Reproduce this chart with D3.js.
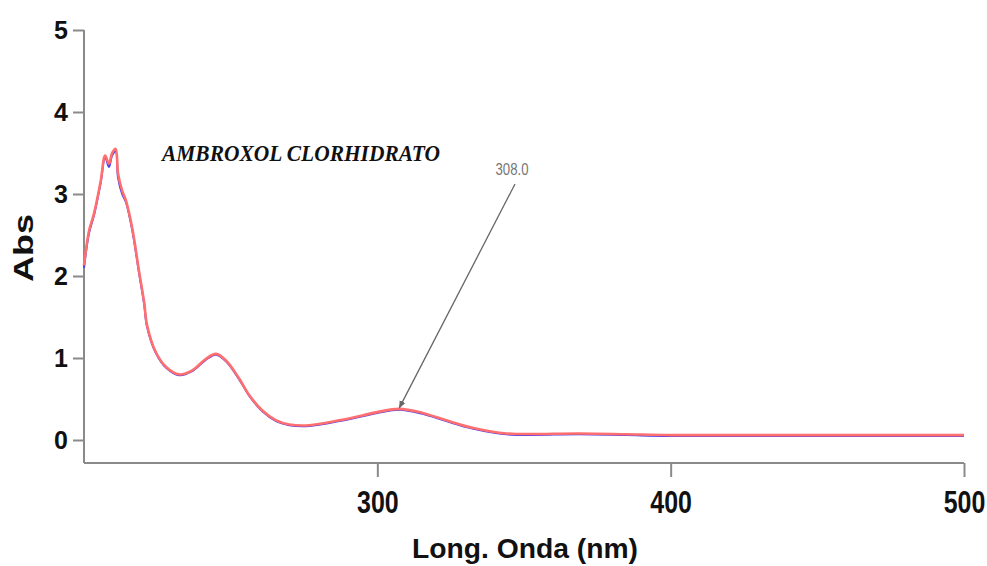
<!DOCTYPE html>
<html>
<head>
<meta charset="utf-8">
<script src="https://cdn.jsdelivr.net/npm/d3@7"></script>
<style>
  body { margin: 0; background: #fff; }
  .tick text { font-family: "Liberation Sans", Arial, sans-serif; font-weight: bold; fill: #111; }
  .y.axis .tick text { font-size: 25px; }
  .x.axis .tick text { font-size: 32px; }
  .axis path, .axis line { stroke: #8a8a8a; stroke-width: 2; }
</style>
</head>
<body>
<script>
// spectrum (wavelength nm, absorbance)
var wavelengths = [200, 201.7, 203.4, 205.7, 207.2, 208.5, 209.6, 210.8, 211.6, 213, 214.3, 216.4, 218.8, 220.5, 221.5, 224.5, 228, 232.4, 236.9, 241.6, 245, 248.4, 252.9, 256.3, 260.8, 265.5, 270, 276.8, 287, 294.9, 300, 307.5, 315.4, 323.5, 332.4, 344, 369, 385, 400, 450, 500];
var absRed  = [2.13, 2.55, 2.76, 3.16, 3.47, 3.37, 3.50, 3.55, 3.25, 3.04, 2.92, 2.59, 2.05, 1.68, 1.40, 1.07, 0.89, 0.80, 0.85, 0.99, 1.05, 0.97, 0.75, 0.55, 0.36, 0.24, 0.19, 0.18, 0.24, 0.30, 0.34, 0.38, 0.33, 0.24, 0.15, 0.08, 0.08, 0.07, 0.06, 0.06, 0.06];
var absBlue = [2.10, 2.52, 2.74, 3.14, 3.45, 3.33, 3.47, 3.52, 3.20, 3.00, 2.90, 2.57, 2.03, 1.66, 1.38, 1.06, 0.88, 0.79, 0.84, 0.98, 1.04, 0.96, 0.74, 0.54, 0.35, 0.23, 0.18, 0.17, 0.23, 0.29, 0.33, 0.37, 0.32, 0.23, 0.14, 0.07, 0.07, 0.06, 0.05, 0.05, 0.05];
var xTicks = [300, 400, 500];
var yTicks = [0, 1, 2, 3, 4, 5];
var title = "AMBROXOL CLORHIDRATO";
var peakLabel = "308.0";
var peakX = 307.5, peakY = 0.38;

var width = 987, height = 566;
var margin = {left: 84, right: 23, top: 30, bottom: 104};

var svg = d3.select("body").append("svg")
    .attr("width", width)
    .attr("height", height);

var x = d3.scaleLinear().domain([200, 500]).range([margin.left, width - margin.right]);
var y = d3.scaleLinear().domain([0, 5]).range([440, 30]);
var yBottom = 463;

// y axis
var yAxis = svg.append("g").attr("class", "y axis")
    .attr("transform", "translate(" + margin.left + ",0)")
    .call(d3.axisLeft(y).tickValues(yTicks).tickFormat(d3.format("d"))
      .tickSize(11).tickSizeOuter(0).tickPadding(5));
yAxis.select(".domain").remove();
yAxis.append("line").attr("x1", 0).attr("x2", 0).attr("y1", y(5)).attr("y2", yBottom);

// x axis (labels are drawn tall and narrow in the original)
var xAxis = svg.append("g").attr("class", "x axis")
    .attr("transform", "translate(0," + yBottom + ")")
    .call(d3.axisBottom(x).tickValues(xTicks).tickFormat(d3.format("d"))
      .tickSize(14).tickSizeOuter(0).tickPadding(13));
xAxis.select(".domain").remove();
xAxis.selectAll(".tick text")
    .attr("transform", "scale(0.78,1)");
xAxis.append("line").attr("x1", margin.left).attr("x2", x(500)).attr("y1", 0).attr("y2", 0);

// axis titles
svg.append("text")
    .attr("transform", "translate(33,248) rotate(-90)")
    .attr("text-anchor", "middle")
    .attr("textLength", 68)
    .attr("lengthAdjust", "spacingAndGlyphs")
    .style("font-family", "Liberation Sans, Arial, sans-serif")
    .style("font-weight", "bold")
    .style("font-size", "27px")
    .attr("fill", "#111")
    .text("Abs");

svg.append("text")
    .attr("x", 525).attr("y", 558)
    .attr("text-anchor", "middle")
    .attr("textLength", 226)
    .attr("lengthAdjust", "spacingAndGlyphs")
    .style("font-family", "Liberation Sans, Arial, sans-serif")
    .style("font-weight", "bold")
    .style("font-size", "27px")
    .attr("fill", "#111")
    .text("Long. Onda (nm)");

// spectra
var line = d3.line()
    .x(function(d) { return x(d[0]); })
    .y(function(d) { return y(d[1]); })
    .curve(d3.curveCatmullRom.alpha(0.5));

svg.append("path")
    .datum(d3.zip(wavelengths, absBlue))
    .attr("fill", "none")
    .attr("stroke", "#4a3cf0")
    .attr("stroke-width", 2)
    .attr("d", line);

svg.append("path")
    .datum(d3.zip(wavelengths, absRed))
    .attr("fill", "none")
    .attr("stroke", "#ff6f6f")
    .attr("stroke-width", 2.6)
    .attr("d", line);

// title
svg.append("text")
    .attr("x", 162).attr("y", 161)
    .attr("textLength", 278)
    .attr("lengthAdjust", "spacingAndGlyphs")
    .style("font-family", "Liberation Serif, DejaVu Serif, serif")
    .style("font-weight", "bold")
    .style("font-style", "italic")
    .style("font-size", "23px")
    .attr("fill", "#111")
    .text(title);

// peak annotation
var defs = svg.append("defs");
defs.append("marker")
    .attr("id", "arrow")
    .attr("viewBox", "0 0 10 10")
    .attr("refX", 9).attr("refY", 5)
    .attr("markerWidth", 6).attr("markerHeight", 6)
    .attr("orient", "auto")
    .append("path")
    .attr("d", "M0,1 L10,5 L0,9 z")
    .attr("fill", "#666");

svg.append("line")
    .attr("x1", 515).attr("y1", 184)
    .attr("x2", x(peakX)).attr("y2", y(peakY) - 1)
    .attr("stroke", "#666")
    .attr("stroke-width", 1.3)
    .attr("marker-end", "url(#arrow)");

svg.append("text")
    .attr("x", 512).attr("y", 175)
    .attr("text-anchor", "middle")
    .attr("textLength", 33)
    .attr("lengthAdjust", "spacingAndGlyphs")
    .style("font-family", "Liberation Sans, Arial, sans-serif")
    .style("font-size", "17px")
    .attr("fill", "#777")
    .text(peakLabel);
</script>
</body>
</html>
